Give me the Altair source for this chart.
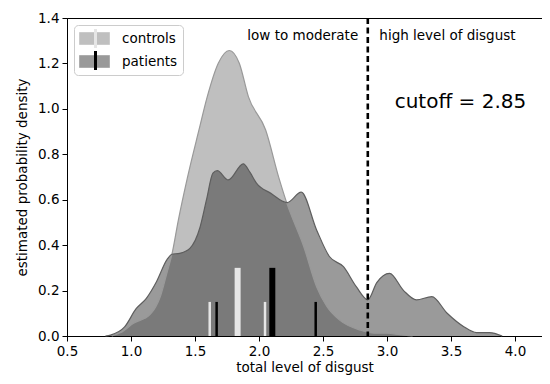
import altair as alt
import pandas as pd

# ---- data ----
groups = ["controls", "patients"]

ctrl_x = [0.85, 0.92, 1.02, 1.15, 1.23, 1.28, 1.32, 1.37, 1.44, 1.531, 1.596, 1.682,
          1.768, 1.846, 1.917, 2.052, 2.156, 2.216, 2.35, 2.45, 2.53, 2.63, 2.79,
          2.9, 3.0, 3.1, 3.2]
ctrl_y = [0.0, 0.015, 0.056, 0.095, 0.175, 0.276, 0.36, 0.51, 0.695, 0.907, 1.054, 1.201,
          1.257, 1.201, 1.054, 0.907, 0.695, 0.587, 0.393, 0.217, 0.13, 0.07, 0.026,
          0.012, 0.012, 0.006, 0.0]

pat_x = [0.80, 0.84, 0.95, 1.04, 1.12, 1.20, 1.28, 1.32, 1.38, 1.46, 1.54, 1.59, 1.64,
         1.674, 1.76, 1.877, 1.93, 1.98, 2.09, 2.22, 2.33, 2.45, 2.55, 2.66, 2.76,
         2.85, 2.92, 3.02, 3.13, 3.23, 3.35, 3.47, 3.6, 3.7, 3.8, 3.9]
pat_y = [0.0, 0.004, 0.04, 0.12, 0.166, 0.24, 0.335, 0.36, 0.364, 0.386, 0.48, 0.60, 0.717,
         0.728, 0.687, 0.758, 0.72, 0.673, 0.629, 0.587, 0.633, 0.467, 0.35, 0.305, 0.217,
         0.159, 0.235, 0.276, 0.20, 0.159, 0.173, 0.10, 0.041, 0.015, 0.015, 0.0]

# quartile / median ticks per group
ctrl_tick_x = [1.615, 1.833, 2.047]
pat_tick_x = [1.669, 2.104, 2.443]
tick_h = [0.15, 0.30, 0.15]
tick_w = [2.5, 6, 2.5]

cutoff = 2.85

x_ticks = [0.5, 1.0, 1.5, 2.0, 2.5, 3.0, 3.5, 4.0]
y_ticks = [0.0, 0.2, 0.4, 0.6, 0.8, 1.0, 1.2, 1.4]

# ---- tables ----
dens = pd.concat([
    pd.DataFrame({"group": "controls", "x": ctrl_x, "y": ctrl_y}),
    pd.DataFrame({"group": "patients", "x": pat_x, "y": pat_y}),
], ignore_index=True)

ticks_c = pd.DataFrame({"gc": "controls", "x": ctrl_tick_x, "y": 0.0, "y2": tick_h, "w": tick_w})
ticks_p = pd.DataFrame({"gp": "patients", "x": pat_tick_x, "y": 0.0, "y2": tick_h, "w": tick_w})
cut = pd.DataFrame({"x": [cutoff]})

txt_left = pd.DataFrame({"x": [2.775], "y": [1.322], "t": ["low to moderate"]})
txt_right = pd.DataFrame({"x": [2.94], "y": [1.322], "t": ["high level of disgust"]})
txt_cut = pd.DataFrame({"x": [3.06], "y": [1.03], "t": [f"cutoff = {cutoff}"]})

FONT = "DejaVu Sans"
FS = 13.5

PLOT_W = 475
xscale = alt.Scale(domain=[0.5, 0.5 + PLOT_W / 128.0], nice=False, zero=False)
yscale = alt.Scale(domain=[0, 1.4], nice=False, zero=False)
xaxis = alt.Axis(values=x_ticks, format=".1f", title="total level of disgust")
yaxis = alt.Axis(values=y_ticks, format=".1f", title="estimated probability density")

X = alt.X("x:Q", scale=xscale, axis=xaxis, title="total level of disgust")
Y = alt.Y("y:Q", scale=yscale, axis=yaxis, title="estimated probability density", stack=None)

area = alt.Chart(dens).mark_area(interpolate="monotone", fillOpacity=0.5, strokeWidth=0).encode(
    x=X, y=Y,
    fill=alt.Fill("group:N", scale=alt.Scale(domain=groups, range=["#808080", "#363636"]),
                  legend=alt.Legend(
                      title=None, orient="none", legendX=7, legendY=7,
                      fillColor="white", strokeColor="#cccccc", cornerRadius=4,
                      padding=5, symbolType="M-1,-0.75H2.75V0.75H-1Z", symbolSize=256,
                      symbolOpacity=0.5, symbolStrokeColor="#444444", symbolStrokeWidth=1,
                      labelOffset=26, rowPadding=6, labelFontSize=FS, labelFont=FONT,
                      labelColor="black", zindex=1)),
)

outline = alt.Chart(dens).mark_line(interpolate="monotone", strokeWidth=1.2).encode(
    x=X, y=Y,
    color=alt.Color("group:N", scale=alt.Scale(domain=groups, range=["#999999", "#5e5e5e"]),
                    legend=None),
)


def tick_layer(df, field, value, colour, legend_y):
    return alt.Chart(df).mark_rule(strokeCap="butt").encode(
        x=X, y=Y, y2="y2:Q",
        stroke=alt.Stroke(f"{field}:N", scale=alt.Scale(domain=[value], range=[colour]),
                          legend=alt.Legend(
                              title=None, orient="none", legendX=7, legendY=legend_y,
                              padding=5, symbolType="M0.875,-1.19V1.19", symbolSize=256,
                              symbolStrokeWidth=3, labelOffset=26,
                              labelFontSize=FS, labelFont=FONT, labelExpr="''", zindex=2)),
        strokeWidth=alt.StrokeWidth("w:Q", scale=None),
    )


rules_c = tick_layer(ticks_c, "gc", "controls", "#e6e6e6", 6)
rules_p = tick_layer(ticks_p, "gp", "patients", "black", 28)

cut_rule = alt.Chart(cut).mark_rule(color="black", strokeWidth=2.6, strokeDash=[6, 3.5]).encode(
    x=X,
)

t1 = alt.Chart(txt_left).mark_text(align="right", baseline="middle", font=FONT, fontSize=FS,
                                   color="black").encode(x=X, y=Y, text="t:N")
t2 = alt.Chart(txt_right).mark_text(align="left", baseline="middle", font=FONT, fontSize=FS,
                                    color="black").encode(x=X, y=Y, text="t:N")
t3 = alt.Chart(txt_cut).mark_text(align="left", baseline="middle", font=FONT, fontSize=20,
                                  color="black").encode(x=X, y=Y, text="t:N")

chart = alt.layer(area, outline, rules_c, rules_p, cut_rule, t1, t2, t3).resolve_scale(
    stroke="independent"
).properties(
    width=PLOT_W, height=318,
    padding={"left": 59, "top": 10, "right": 0, "bottom": 40},
    autosize=alt.AutoSizeParams(type="none"),
).configure_view(
    stroke="black", strokeWidth=1
).configure_axis(
    grid=False, domainColor="black", tickColor="black", tickSize=5, labelFont=FONT,
    titleFont=FONT, labelFontSize=FS, titleFontSize=FS, labelColor="black",
    titleColor="black", titleFontWeight="normal", labelFlush=False, labelPadding=3,
).configure_axisY(titlePadding=8).configure_axisX(titlePadding=3)

chart.save("out.html", embed_options={"renderer": "svg", "actions": False})
